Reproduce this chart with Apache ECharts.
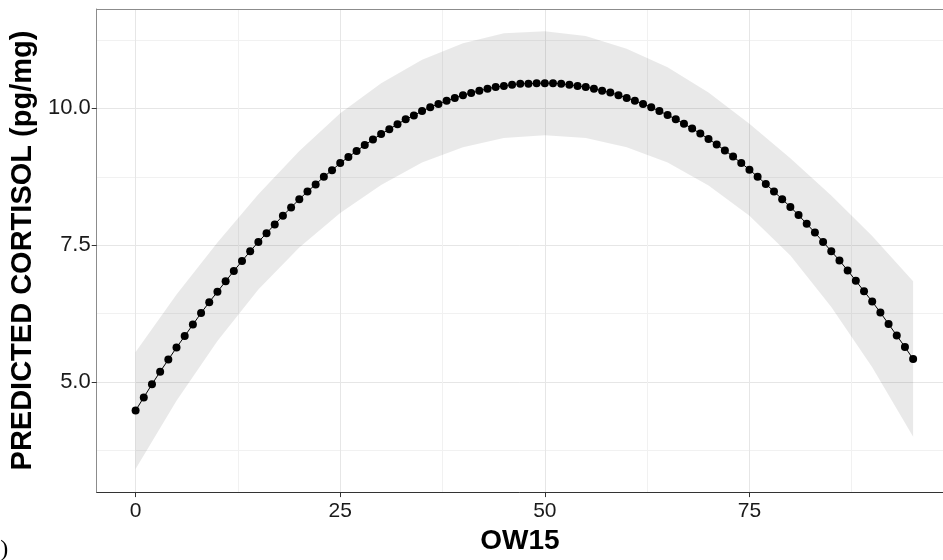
<!DOCTYPE html>
<html>
<head>
<meta charset="utf-8">
<title>Predicted cortisol by OW15</title>
<script src="https://cdn.jsdelivr.net/npm/echarts@6/dist/echarts.min.js"></script>
<style>
	html, body { margin: 0; padding: 0; background: #fff; }
	#chart { width: 943px; height: 560px; }
</style>
</head>
<body>
<div id="chart"></div>
<script>
	// OW15 values, one point per unit
	var owX = [
		0, 1, 2, 3, 4, 5, 6, 7, 8, 9,
		10, 11, 12, 13, 14, 15, 16, 17, 18, 19,
		20, 21, 22, 23, 24, 25, 26, 27, 28, 29,
		30, 31, 32, 33, 34, 35, 36, 37, 38, 39,
		40, 41, 42, 43, 44, 45, 46, 47, 48, 49,
		50, 51, 52, 53, 54, 55, 56, 57, 58, 59,
		60, 61, 62, 63, 64, 65, 66, 67, 68, 69,
		70, 71, 72, 73, 74, 75, 76, 77, 78, 79,
		80, 81, 82, 83, 84, 85, 86, 87, 88, 89,
		90, 91, 92, 93, 94, 95
	];
	var predicted = [
		4.48, 4.72, 4.96, 5.19, 5.41, 5.63, 5.84, 6.05, 6.26, 6.46,
		6.65, 6.84, 7.03, 7.21, 7.39, 7.56, 7.72, 7.88, 8.04, 8.19,
		8.34, 8.48, 8.61, 8.75, 8.87, 9.00, 9.11, 9.22, 9.33, 9.43,
		9.53, 9.62, 9.71, 9.80, 9.87, 9.95, 10.02, 10.08, 10.14, 10.19,
		10.24, 10.28, 10.32, 10.36, 10.39, 10.41, 10.43, 10.45, 10.45, 10.46,
		10.46, 10.46, 10.45, 10.43, 10.41, 10.39, 10.36, 10.32, 10.29, 10.24,
		10.19, 10.14, 10.08, 10.02, 9.95, 9.88, 9.80, 9.72, 9.63, 9.54,
		9.44, 9.34, 9.23, 9.12, 9.00, 8.88, 8.75, 8.62, 8.48, 8.34,
		8.20, 8.05, 7.89, 7.73, 7.56, 7.39, 7.22, 7.04, 6.85, 6.66,
		6.47, 6.27, 6.06, 5.85, 5.64, 5.42
	];

	// confidence band, read every 5 units
	var bandX = [ 0, 5, 10, 15, 20, 25, 30, 35, 40, 45, 50, 55, 60, 65, 70, 75, 80, 85, 90, 95 ];
	var bandUpper = [ 5.55, 6.60, 7.55, 8.43, 9.22, 9.91, 10.46, 10.89, 11.19, 11.37, 11.41, 11.32, 11.09, 10.75, 10.29, 9.72, 9.09, 8.41, 7.67, 6.84 ];
	var bandLower = [ 3.41, 4.66, 5.75, 6.69, 7.46, 8.09, 8.60, 9.01, 9.29, 9.46, 9.51, 9.46, 9.29, 9.01, 8.59, 8.04, 7.31, 6.37, 5.27, 4.00 ];

	var xMajor = [ 0, 25, 50, 75 ];
	var xMinor = [ 12.5, 37.5, 62.5, 87.5 ];
	var yMajor = [ 5, 7.5, 10 ];
	var yMinor = [ 3.75, 6.25, 8.75, 11.25 ];

	var fontName = '"Liberation Sans", Arial, sans-serif';
	var majorColor = '#e6e6e6';
	var minorColor = '#f1f1f1';
	var frameColor = '#8c8c8c';

	var chart = echarts.init( document.getElementById( 'chart' ), null, { renderer: 'canvas' } );

	function bandPolygon( params, api ) {
		var pts = [];
		for ( var i = 0; i < bandX.length; i ++ ) {
			pts.push( api.coord( [ bandX[ i ], bandUpper[ i ] ] ) );
		}
		for ( var j = bandX.length - 1; j >= 0; j -- ) {
			pts.push( api.coord( [ bandX[ j ], bandLower[ j ] ] ) );
		}
		return {
			type: 'polygon',
			shape: { points: pts },
			style: { fill: 'rgba(0,0,0,0.085)' }
		};
	}

	// the panel runs past the right edge of the picture, so no right border
	var option = {
		backgroundColor: '#fff',
		animation: false,
		grid: {
			left: 95,
			top: 9,
			right: 0,
			bottom: 60,
			show: false
		},
		xAxis: [
			{
				type: 'value',
				min: -4.75,
				max: 98.65,
				name: 'OW15',
				nameLocation: 'middle',
				nameGap: 27,
				nameTextStyle: { fontFamily: fontName, fontSize: 28, fontWeight: 'bold', color: '#000' },
				axisLine: { show: true, onZero: false, lineStyle: { color: '#333', width: 1 } },
				axisTick: { show: true, length: 5, customValues: xMajor, lineStyle: { color: '#333' } },
				axisLabel: {
					customValues: xMajor,
					margin: 9,
					fontFamily: fontName,
					fontSize: 21,
					color: '#1a1a1a'
				},
				splitLine: { show: true, lineStyle: { color: majorColor, width: 1 } }
			},
			{
				type: 'value',
				position: 'top',
				min: -4.75,
				max: 98.65,
				axisLine: { show: true, onZero: false, lineStyle: { color: frameColor, width: 1 } },
				axisTick: { show: false, customValues: xMinor },
				axisLabel: { show: false },
				splitLine: { show: true, lineStyle: { color: minorColor, width: 1 } }
			}
		],
		yAxis: [
			{
				type: 'value',
				min: 2.99,
				max: 11.815,
				name: 'PREDICTED CORTISOL (pg/mg)',
				nameLocation: 'middle',
				nameGap: 54,
				nameTextStyle: { fontFamily: fontName, fontSize: 29, fontWeight: 'bold', color: '#000' },
				axisLine: { show: true, onZero: false, lineStyle: { color: frameColor, width: 1 } },
				axisTick: { show: true, length: 5, customValues: yMajor, lineStyle: { color: '#333' } },
				axisLabel: {
					customValues: yMajor,
					margin: 6,
					fontFamily: fontName,
					fontSize: 22,
					color: '#1a1a1a',
					formatter: function( v ) {
						return v.toFixed( 1 );
					}
				},
				splitLine: { show: true, lineStyle: { color: majorColor, width: 1 } }
			},
			{
				type: 'value',
				position: 'right',
				min: 2.99,
				max: 11.815,
				axisLine: { show: false },
				axisTick: { show: false, customValues: yMinor },
				axisLabel: { show: false },
				splitLine: { show: true, lineStyle: { color: minorColor, width: 1 } }
			}
		],
		graphic: [
			{
				type: 'text',
				left: -17,
				top: 538,
				style: {
					text: 'D)',
					font: '24px "Liberation Serif", serif',
					fill: '#000'
				}
			}
		],
		series: [
			{
				name: 'band',
				type: 'custom',
				coordinateSystem: 'cartesian2d',
				xAxisIndex: 0,
				yAxisIndex: 0,
				silent: true,
				z: 1,
				data: [ [ bandX[ 0 ], bandLower[ 0 ] ] ],
				renderItem: bandPolygon
			},
			{
				name: 'Predicted cortisol',
				type: 'line',
				xAxisIndex: 0,
				yAxisIndex: 0,
				z: 3,
				data: owX.map( function( x, i ) {
					return [ x, predicted[ i ] ];
				} ),
				symbol: 'circle',
				symbolSize: 8,
				showSymbol: true,
				itemStyle: { color: '#000' },
				lineStyle: { color: '#000', width: 1 }
			}
		]
	};

	chart.setOption( option );
</script>
</body>
</html>
